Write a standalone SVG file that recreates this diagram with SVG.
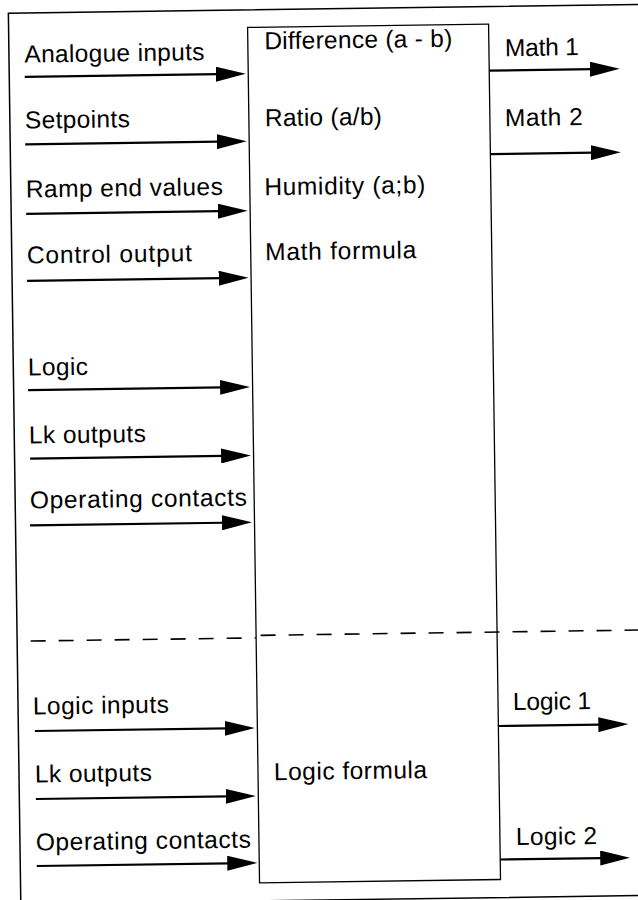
<svg xmlns="http://www.w3.org/2000/svg" width="638" height="900" viewBox="0 0 638 900">
<style>
text{font-family:"Liberation Sans",Arial,Helvetica,sans-serif;font-size:24.5px;fill:#000}
.frame{fill:none;stroke:#000;stroke-width:1.5}
.box{fill:#fff;stroke:#000;stroke-width:1.3}
.arr{stroke:#000;stroke-width:2.2;fill:none;marker-end:url(#ah)}
.dash{stroke:#000;stroke-width:1.6;stroke-dasharray:15 13;fill:none}
</style>
<defs>
<marker id="ah" viewBox="0 0 30 15" refX="20" refY="7.5" markerWidth="30" markerHeight="15" markerUnits="userSpaceOnUse" orient="auto"><path d="M0,0 L30,7.5 L0,15 z" fill="#000"/></marker>
</defs>
<rect width="638" height="900" fill="#fff"/>
<g transform="rotate(-0.8 319 450)">
<g id="frame"><rect class="frame" x="14.5" y="9" width="632" height="891"/></g>
<g id="block">
<rect class="box" x="253.5" y="26.5" width="241" height="855.5"/>
<text x="270" y="48.5" textLength="188">Difference (a - b)</text>
<text x="269.5" y="125.5" textLength="117">Ratio (a/b)</text>
<text x="268" y="194.5" textLength="161">Humidity (a;b)</text>
<text x="268" y="259.5" textLength="151">Math formula</text>
<text x="269.5" y="779.5" textLength="153">Logic formula</text>
</g>
<g id="divider">
<line class="dash" x1="28" y1="637" x2="253" y2="637"/>
<line class="dash" x1="258" y1="634.5" x2="646" y2="634.5"/>
</g>
<g id="inputs">
<text x="30" y="58.5" textLength="180">Analogue inputs</text>
<text x="29.5" y="124.5" textLength="105">Setpoints</text>
<text x="29.5" y="193.5" textLength="197">Ramp end values</text>
<text x="29.6" y="259.5" textLength="165">Control output</text>
<text x="29" y="371.5" textLength="60">Logic</text>
<text x="29.1" y="439.5" textLength="117">Lk outputs</text>
<text x="29.2" y="504.5" textLength="217">Operating contacts</text>
<text x="29.3" y="710.5" textLength="136">Logic inputs</text>
<text x="30.4" y="778.5" textLength="117">Lk outputs</text>
<text x="30.4" y="846.5" textLength="215">Operating contacts</text>
</g>
<g id="outputs">
<text x="510.5" y="58.8" textLength="74">Math 1</text>
<text x="509.5" y="128.8" textLength="78">Math 2</text>
<text x="509.4" y="712.8" textLength="78">Logic 1</text>
<text x="510.5" y="847.8" textLength="81">Logic 2</text>
</g>
<g id="connectors">
<line class="arr" x1="30" y1="72.8" x2="241" y2="72.8"/>
<line class="arr" x1="29.5" y1="140.3" x2="241" y2="140.3"/>
<line class="arr" x1="29.5" y1="209.8" x2="241" y2="209.8"/>
<line class="arr" x1="29.5" y1="276.8" x2="241" y2="276.8"/>
<line class="arr" x1="29" y1="386" x2="241" y2="386"/>
<line class="arr" x1="30" y1="454.6" x2="241" y2="454.6"/>
<line class="arr" x1="29" y1="521.4" x2="241" y2="521.4"/>
<line class="arr" x1="31" y1="727" x2="241" y2="727"/>
<line class="arr" x1="31" y1="795" x2="241" y2="795"/>
<line class="arr" x1="31" y1="862" x2="241.5" y2="862"/>
<line class="arr" x1="494.5" y1="73" x2="615" y2="73"/>
<line class="arr" x1="494.5" y1="156.5" x2="615" y2="156.5"/>
<line class="arr" x1="494.5" y1="728.5" x2="614.5" y2="728.5"/>
<line class="arr" x1="494.5" y1="862" x2="614.5" y2="862"/>
</g>
</g>
</svg>
